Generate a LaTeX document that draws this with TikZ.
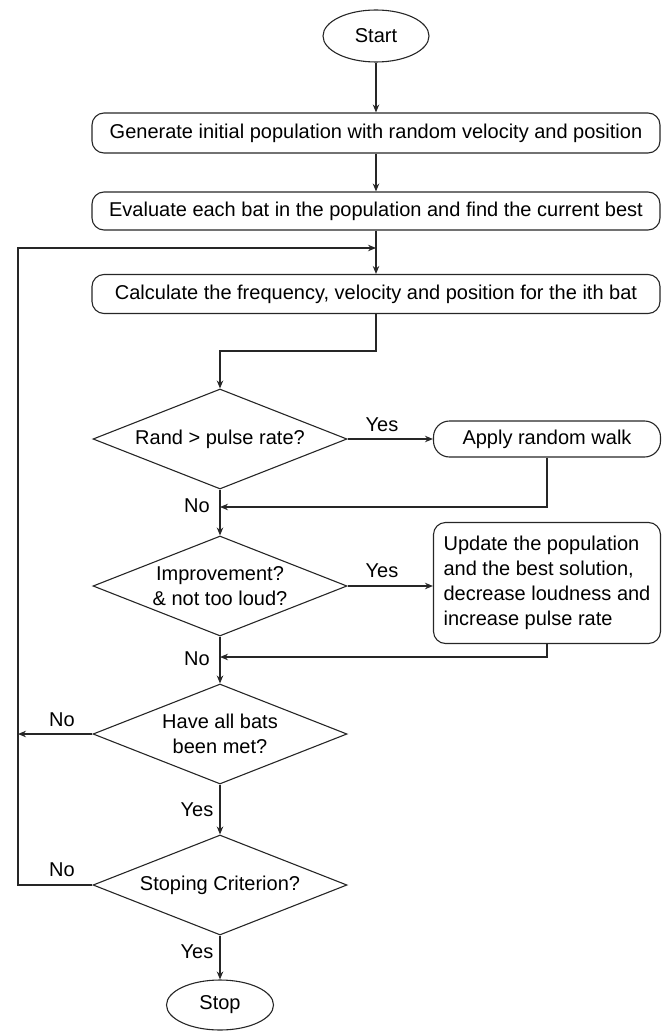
\documentclass[tikz,border=0pt]{standalone}
\usepackage{fontspec}
\setmainfont{Liberation Sans}
\usetikzlibrary{arrows.meta,shapes.geometric}
\begin{document}
\begin{tikzpicture}[x=1pt,y=-1pt,
  font=\fontsize{20}{25}\selectfont,
  line width=1.1pt,
  term/.style={ellipse, draw=black!85, minimum width=106pt, minimum height=52pt, inner sep=0pt},
  pbox/.style={draw=black!85, rounded corners=12pt, minimum width=568pt, minimum height=40pt, inner sep=0pt},
  sbox/.style={draw=black!85, rounded corners=12pt, minimum width=227pt, inner sep=0pt},
  dec/.style={diamond, aspect=2.54, draw=black!85, minimum width=254pt, minimum height=100pt, inner sep=0pt, align=center},
  lbl/.style={inner sep=0pt},
  arr/.style={draw=black!85, -{Stealth[length=8pt,width=6.5pt]}}]
\useasboundingbox (0,0) rectangle (665,1032);

\node[term] (start) at (376,36) {Start};
\node[pbox] (gen) at (376,133) {Generate initial population with random velocity and position};
\node[pbox, minimum height=38pt] (eval) at (376,211) {Evaluate each bat in the population and find the current best};
\node[pbox, minimum height=39pt] (calc) at (376,294) {Calculate the frequency, velocity and position for the ith bat};
\node[dec] (d1) at (220,439) {Rand > pulse rate?};
\node[sbox, minimum height=36pt, rounded corners=16pt] (walk) at (547,439) {Apply random walk};
\node[dec] (d2) at (220,586) {Improvement?\\\& not too loud?};
\node[sbox, minimum height=121pt, align=left] (upd) at (547,583) {Update the population\\and the best solution,\\decrease loudness and\\increase pulse rate};
\node[dec] (d3) at (220,734) {Have all bats\\been met?};
\node[dec] (d4) at (220,885) {Stoping Criterion?};
\node[term, minimum width=107pt, minimum height=50pt] (stop) at (220,1005) {Stop};

\coordinate (loopin) at (376,248);
\coordinate (bend) at (376,351);
\coordinate (j1) at (220,507);
\coordinate (j2) at (220,657);
\coordinate (leftA) at (18,734);
\coordinate (leftB) at (18,885);
\coordinate (leftTop) at (18,248);

\draw[arr] (start) -- (gen);
\draw[arr] (gen) -- (eval);
\draw[arr] (eval) -- (calc);
\draw[arr] (calc.south) -- (bend) -| (d1.north);
\draw[arr] (d1.east) -- (walk.west);
\draw[arr] (walk.south) |- (j1);
\draw[arr] (d1.south) -- (d2.north);
\draw[arr] (d2.east) -- (d2.east -| upd.west);
\draw[arr] (upd.south) |- (j2);
\draw[arr] (d2.south) -- (d3.north);
\draw[arr] (d3.west) -- (leftA);
\draw[arr] (d3.south) -- (d4.north);
\draw[arr] (d4.west) -- (leftB) -- (leftTop) -- (loopin);
\draw[arr] (d4.south) -- (stop.north);

\node[lbl] (y1) at (382,425) {Yes};
\node[lbl] (n1) at (197,506) {No};
\node[lbl] (y2) at (382,571) {Yes};
\node[lbl] (n2) at (197,659) {No};
\node[lbl] (n3) at (62,720) {No};
\node[lbl] (y3) at (197,810) {Yes};
\node[lbl] (n4) at (62,870) {No};
\node[lbl] (y4) at (197,952) {Yes};
\end{tikzpicture}
\end{document}
